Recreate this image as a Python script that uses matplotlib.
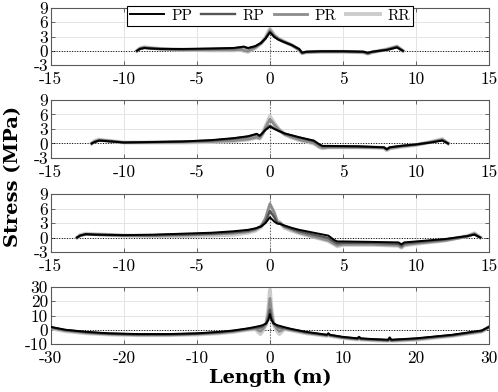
import matplotlib
matplotlib.use("Agg")
import matplotlib.pyplot as plt

plt.rcParams['font.family'] = ['cmr10', 'DejaVu Serif']
plt.rcParams['axes.unicode_minus'] = False
plt.rcParams['axes.formatter.use_mathtext'] = False

# series names and colours
names = ['PP', 'RP', 'PR', 'RR']

# panel 1
x1 = [-9.1, -8.9, -8.6, -8.2, -7.5, -6.0, -4.0, -2.5, -2.0, -1.8, -1.5, -1.0, -0.6, -0.3, 0.0,
      0.3, 0.6, 1.0, 1.5, 2.0, 2.2, 2.5, 3.5, 5.0, 6.4, 6.7, 7.0, 8.0, 8.7, 9.1]
pp1 = [0.0, 0.4, 0.6, 0.5, 0.4, 0.4, 0.5, 0.6, 0.8, 0.9, 0.6, 1.0, 1.7, 2.6, 3.9,
       2.9, 2.3, 1.8, 1.2, 0.4, -0.4, -0.2, -0.1, -0.1, -0.2, -0.4, -0.2, 0.2, 0.7, 0.0]
rp1 = [0.0, 0.4, 0.6, 0.5, 0.4, 0.3, 0.4, 0.5, 0.7, 0.8, 0.5, 0.9, 1.6, 2.6, 4.0,
       3.0, 2.4, 1.8, 1.2, 0.3, -0.4, -0.2, -0.1, -0.1, -0.2, -0.5, -0.2, 0.2, 0.8, 0.0]
pr1 = [0.0, 0.5, 0.7, 0.6, 0.4, 0.2, 0.2, 0.2, 0.3, 0.1, -0.1, 0.7, 1.6, 2.7, 4.4,
       3.2, 2.5, 1.9, 1.2, 0.2, -0.5, -0.3, -0.2, -0.2, -0.3, -0.6, -0.3, 0.3, 0.9, 0.0]
rr1 = [0.0, 0.5, 0.8, 0.6, 0.4, 0.2, 0.1, 0.1, 0.2, 0.0, -0.2, 0.6, 1.6, 2.8, 4.6,
       3.3, 2.5, 1.9, 1.2, 0.2, -0.5, -0.3, -0.2, -0.2, -0.3, -0.6, -0.3, 0.3, 0.9, 0.0]

# panel 2
x2 = [-12.2, -12.0, -11.7, -11.2, -10.0, -8.0, -6.0, -4.0, -2.5, -1.5, -0.9, -0.7, -0.5, -0.3, 0.0,
      0.3, 0.6, 1.0, 1.5, 2.0, 3.0, 3.4, 3.6, 4.0, 6.0, 7.8, 8.0, 8.2, 9.0, 10.0, 11.0, 11.8, 12.2]
pp2 = [0.0, 0.3, 0.6, 0.5, 0.2, 0.3, 0.4, 0.7, 1.1, 1.5, 2.0, 1.6, 2.2, 2.8, 3.5,
       3.0, 2.6, 2.1, 1.7, 1.3, 0.6, -0.2, -0.5, -0.5, -0.6, -0.8, -1.2, -0.8, -0.5, -0.2, 0.2, 0.6, 0.0]
rp2 = [0.0, 0.3, 0.6, 0.5, 0.2, 0.3, 0.4, 0.6, 1.0, 1.4, 1.9, 1.5, 2.1, 2.9, 3.7,
       3.1, 2.6, 2.0, 1.6, 1.2, 0.5, -0.3, -0.6, -0.6, -0.6, -0.8, -1.2, -0.8, -0.5, -0.2, 0.2, 0.7, 0.0]
pr2 = [0.0, 0.4, 0.7, 0.6, 0.2, 0.2, 0.3, 0.4, 0.6, 0.9, 1.3, 1.1, 2.0, 3.3, 5.0,
       3.9, 2.9, 1.9, 1.3, 0.8, 0.1, -0.7, -0.9, -0.8, -0.8, -0.9, -1.3, -1.0, -0.6, -0.3, 0.3, 0.8, 0.0]
rr2 = [0.0, 0.5, 0.8, 0.6, 0.2, 0.2, 0.2, 0.3, 0.5, 0.8, 1.2, 1.0, 2.0, 3.5, 5.6,
       4.2, 3.0, 1.9, 1.2, 0.7, 0.0, -0.8, -1.0, -0.8, -0.8, -0.9, -1.4, -1.0, -0.7, -0.3, 0.3, 0.9, 0.0]

# panel 3
x3 = [-13.2, -13.0, -12.6, -12.0, -10.0, -8.0, -6.0, -4.0, -2.5, -1.5, -1.0, -0.6, -0.3, 0.0,
      0.3, 0.5, 0.7, 1.0, 1.5, 2.0, 3.0, 4.0, 4.4, 4.6, 5.0, 7.0, 8.8, 9.0, 9.2, 10.0, 12.0, 13.5, 14.0, 14.4]
pp3 = [0.0, 0.4, 0.7, 0.6, 0.5, 0.6, 0.8, 1.0, 1.3, 1.6, 1.9, 2.3, 3.0, 4.2,
       3.3, 2.9, 2.8, 2.5, 2.0, 1.6, 1.0, 0.4, -0.5, -0.8, -0.8, -0.9, -1.0, -1.4, -1.0, -0.8, -0.3, 0.3, 0.6, 0.0]
rp3 = [0.0, 0.4, 0.7, 0.6, 0.5, 0.5, 0.6, 0.8, 1.1, 1.4, 1.8, 2.3, 3.3, 5.5,
       4.2, 3.0, 2.9, 2.3, 1.8, 1.3, 0.6, -0.1, -0.9, -1.2, -1.1, -1.1, -1.3, -1.7, -1.2, -1.0, -0.4, 0.3, 0.7, 0.0]
pr3 = [0.0, 0.4, 0.7, 0.6, 0.4, 0.4, 0.5, 0.7, 0.9, 1.2, 1.6, 2.4, 4.0, 7.0,
       5.2, 3.2, 3.0, 2.2, 1.6, 1.0, 0.2, -0.6, -1.3, -1.6, -1.4, -1.4, -1.6, -2.0, -1.5, -1.2, -0.6, 0.2, 0.8, 0.0]
rr3 = [0.0, 0.5, 0.8, 0.7, 0.4, 0.3, 0.3, 0.4, 0.6, 1.0, 1.4, 2.2, 3.6, 6.0,
       4.8, 3.4, 3.1, 2.0, 1.4, 0.9, 0.1, -0.7, -1.4, -1.8, -1.5, -1.5, -1.7, -2.1, -1.6, -1.3, -0.6, 0.3, 0.9, 0.0]

# panel 4
x4 = [-30, -28, -25, -22, -18, -14, -10, -7, -5, -3, -2, -1.3, -1.0, -0.5, -0.2, 0.0, 0.2, 0.5, 1.0, 1.3,
      2.0, 3.0, 5.0, 7.8, 8.0, 8.2, 10, 12, 12.2, 12.4, 14, 16.2, 16.4, 16.6, 20, 25, 29, 30]
pp4 = [2.0, 0.0, -1.5, -2.5, -3.0, -3.0, -2.5, -1.5, -0.5, 1.0, 2.0, 2.8, 3.2, 4.5, 7.0, 11.0, 7.0, 4.5, 3.2, 2.8,
       1.8, 0.5, -1.5, -3.5, -2.5, -3.5, -5.0, -6.0, -5.0, -6.0, -6.5, -7.0, -5.5, -7.0, -6.0, -3.5, -0.5, 2.0]
rp4 = [1.8, -0.2, -1.8, -2.8, -3.3, -3.3, -2.8, -1.8, -0.8, 0.7, 1.5, 1.5, 2.5, 4.5, 8.5, 14.0, 8.5, 4.5, 2.5, 1.5,
       1.3, 0.2, -1.8, -3.8, -2.8, -3.8, -5.3, -6.3, -5.2, -6.3, -6.8, -7.3, -5.7, -7.3, -6.3, -3.8, -0.8, 2.0]
pr4 = [1.4, -0.6, -2.2, -3.0, -3.6, -3.6, -3.0, -2.2, -1.2, 0.3, 0.8, -1.0, 0.5, 4.3, 12.0, 22.0, 12.0, 4.3, 0.5, -1.0,
       0.8, -0.2, -2.2, -4.0, -3.0, -4.0, -5.6, -6.6, -5.4, -6.6, -7.1, -7.6, -5.9, -7.6, -6.7, -4.1, -1.1, 2.0]
rr4 = [1.0, -1.0, -2.5, -3.3, -3.8, -3.8, -3.3, -2.5, -1.5, 0.0, 0.5, -3.0, -1.0, 4.0, 15.0, 28.0, 15.0, 4.0, -1.0, -3.0,
       0.5, -0.5, -2.5, -4.3, -3.2, -4.3, -5.8, -6.8, -5.5, -6.8, -7.3, -7.8, -6.0, -7.8, -7.0, -4.3, -1.3, 2.0]

panels = [
    (x1, [pp1, rp1, pr1, rr1], (-15, 15), range(-15, 16, 5), (-3, 9), range(-3, 10, 3)),
    (x2, [pp2, rp2, pr2, rr2], (-15, 15), range(-15, 16, 5), (-3, 9), range(-3, 10, 3)),
    (x3, [pp3, rp3, pr3, rr3], (-15, 15), range(-15, 16, 5), (-3, 9), range(-3, 10, 3)),
    (x4, [pp4, rp4, pr4, rr4], (-30, 30), range(-30, 31, 10), (-10, 30), range(-10, 31, 10)),
]

colors = ['#000000', '#555555', '#8c8c8c', '#cccccc']
widths = [1.4, 1.7, 2.0, 2.8]

fig = plt.figure(figsize=(4.98, 3.92), dpi=100)
rects = [(0.102, 0.834, 0.880, 0.1454),
         (0.102, 0.597, 0.880, 0.148),
         (0.102, 0.357, 0.880, 0.148),
         (0.102, 0.1224, 0.880, 0.1454)]

for i, (rect, (x, ys, xl, xt, yl, yt)) in enumerate(zip(rects, panels)):
    ax = fig.add_axes(rect)
    ax.axhline(0, color='black', lw=0.7, ls=':', zorder=1)
    ax.axvline(0, color='0.35', lw=0.8, ls=':', zorder=1)
    # draw lightest first so PP sits on top
    for k in [3, 2, 1, 0]:
        ax.plot(x, ys[k], color=colors[k], lw=widths[k], label=names[k], zorder=2 + (3 - k))
    ax.set_xlim(*xl)
    ax.set_ylim(*yl)
    ax.set_xticks(list(xt))
    ax.set_yticks(list(yt))
    ax.grid(True, color='#e4e4e4', lw=0.7)
    ax.set_axisbelow(True)
    ax.tick_params(direction='in', top=True, right=True, length=3, width=0.6,
                   color='0.3', labelsize=12.5, pad=2)
    ax.tick_params(axis='x', pad=5)
    for s in ax.spines.values():
        s.set_color('0.35')
        s.set_linewidth(0.8)
    if i == 0:
        h, l = ax.get_legend_handles_labels()
        order = [l.index(n) for n in names]
        leg = ax.legend([h[j] for j in order], names, ncol=4, loc='upper center',
                        bbox_to_anchor=(0.5, 1.04), fancybox=False, frameon=True,
                        edgecolor='black', framealpha=1, fontsize=11,
                        handlelength=2.2, columnspacing=0.6, handletextpad=0.5,
                        borderpad=0.2, borderaxespad=0.0)
        leg.get_frame().set_linewidth(0.8)

fig.text(0.026, 0.55, 'Stress (MPa)', rotation=90, ha='center', va='center',
         fontsize=14, fontweight='bold', family=['DejaVu Serif'])
fig.text(0.542, 0.035, 'Length (m)', ha='center', va='center',
         fontsize=14, fontweight='bold', family=['DejaVu Serif'])

fig.savefig('out.png', dpi=100)
